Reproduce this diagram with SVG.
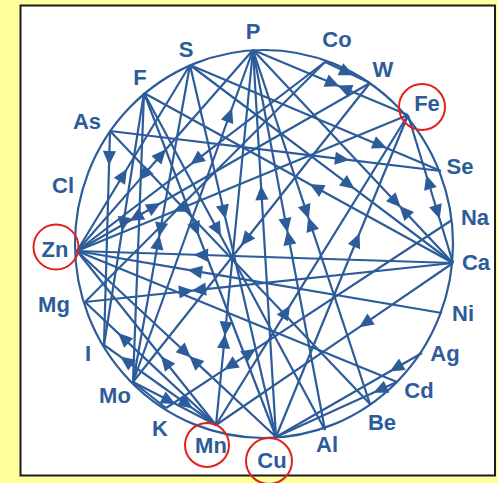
<svg xmlns="http://www.w3.org/2000/svg" width="498" height="483" viewBox="0 0 498 483">
  <style>
    .bg { fill: #FFFF9E; }
    .panel { fill: #FFFFFF; stroke: #1C1C1C; stroke-width: 2; }
    .wheel { fill: none; stroke: #2C5C99; stroke-width: 2.2; }
    .c { fill: none; stroke: #2C5C99; stroke-width: 2.2; stroke-linejoin: round; }
    .a { marker-mid: url(#ah); }
    .lbl { font-family: "Liberation Sans", Arial, Helvetica, sans-serif; font-size: 22px; font-weight: bold; fill: #2C5C99; text-anchor: middle; }
    .ring { fill: none; stroke: #E3201B; stroke-width: 2; }
  </style>
  <defs>
    <marker id="ah" viewBox="-10 -10 20 20" markerWidth="20" markerHeight="20" markerUnits="userSpaceOnUse" refX="0" refY="0" orient="auto">
      <path d="M9.5,0 L-5,-6.6 L-5,6.6 Z" fill="#2C5C99"/>
    </marker>
  </defs>

  <rect class="bg" x="0" y="0" width="498" height="483"/>
  <rect class="panel" x="20.5" y="5.5" width="474.5" height="470"/>
  <ellipse class="wheel" cx="264" cy="244" rx="189" ry="194"/>

  <g id="connectors">
    <!-- P -->
    <polyline class="c a" points="253,50 330.7,82.6 338.5,85.9"/>
    <polyline class="c a" points="408,115 346.3,89.2 338.5,85.9"/>
    <polyline class="c a" points="253,50 394.2,200.4 400,206.6"/>
    <polyline class="c a" points="453,263 405.8,212.8 400,206.6"/>
    <polyline class="c a" points="253,50 305.8,209.9 308.5,218"/>
    <polyline class="c a" points="370,404 311.2,226.1 308.5,218"/>
    <polyline class="c a" points="253,50 285.8,223.2 287.4,231.5"/>
    <polyline class="c a" points="325,430 289,239.8 287.4,231.5"/>
    <polyline class="c a" points="253,50 225.7,326.5 224.9,335"/>
    <polyline class="c a" points="216,425 224.1,343.5 224.9,335"/>
    <polyline class="c a" points="276,437 261.6,195 253,50"/>
    <polyline class="c a" points="133,382 228.8,117 253,50"/>
    <polyline class="c a" points="152.5,164.8 145.3,173.1 77,251"/>
    <polyline class="c a" points="152.5,164.8 159.7,156.5 253,50"/>
    <!-- S -->
    <polyline class="c a" points="190,65 378,144.4 441,171"/>
    <polyline class="c a" points="190,65 347,183.2 453,263"/>
    <polyline class="c a" points="190,65 223.5,210 276,437"/>
    <polyline class="c a" points="190,65 160.75,227.6 159.25,236"/>
    <polyline class="c a" points="133,382 157.75,244.4 159.25,236"/>
    <polyline class="c a" points="77,251 122,177 190,65"/>
    <!-- F -->
    <line class="c" x1="144" y1="93" x2="133" y2="382"/>
    <polyline class="c a" points="144,93 123.5,222 104,345"/>
    <polyline class="c a" points="144,93 195.4,227 276,437"/>
    <polyline class="c a" points="144,93 216.5,228 325,430"/>
    <polyline class="c a" points="453,263 318,188.7 144,93"/>
    <!-- As -->
    <polyline class="c a" points="110,131 340,158.8 441,171"/>
    <polyline class="c a" points="110,131 109.3,156 104,345"/>
    <line class="c" x1="110" y1="131" x2="370" y2="404"/>
    <!-- Zn -->
    <polyline class="c a" points="325,62 198,158.8 77,251"/>
    <polyline class="c a" points="145,212 137.6,216.2 77,251"/>
    <polyline class="c a" points="145,212 152.4,207.8 370,83"/>
    <polyline class="c a" points="408,115 182,207.9 77,251"/>
    <polyline class="c a" points="453,263 203,255 77,251"/>
    <polyline class="c a" points="442,313 197,271.4 77,251"/>
    <line class="c" x1="77" y1="251" x2="397" y2="382"/>
    <polyline class="c a" points="77,251 183.8,350.8 190,356.6"/>
    <polyline class="c a" points="276,437 196.2,362.4 190,356.6"/>
    <polyline class="c a" points="216,425 167,363.7 77,251"/>
    <!-- Mg -->
    <polyline class="c a" points="85,302 184,291.5 192.5,290.6"/>
    <polyline class="c a" points="453,263 201,289.7 192.5,290.6"/>
    <polyline class="c a" points="216,425 125,339.6 85,302"/>
    <line class="c" x1="85" y1="302" x2="325" y2="62"/>
    <!-- I -->
    <polyline class="c a" points="156.5,382.5 128,362.1 104,345"/>
    <polyline class="c a" points="156.5,382.5 185,402.9 216,425"/>
    <!-- Mo -->
    <polyline class="c a" points="133,382 167,399.6 216,425"/>
    <line class="c" x1="133" y1="382" x2="166" y2="408"/>
    <polyline class="c a" points="370,83 247,238.2 133,382"/>
    <!-- K -->
    <polyline class="c a" points="240,359.4 232,364.6 166,408"/>
    <polyline class="c a" points="240,359.4 248,354.1 452,220"/>
    <!-- Cu -->
    <polyline class="c a" points="276,437 355.9,242 408,115"/>
    <polyline class="c a" points="422,353 398,366.8 276,437"/>
    <polyline class="c a" points="397,382 382,388.8 276,437"/>
    <!-- Mn -->
    <polyline class="c a" points="216,425 285,313.6 408,115"/>
    <polyline class="c a" points="453,263 367,321.8 216,425"/>
    <!-- Fe, Co -->
    <polyline class="c a" points="432.9,197 429,184 408,115"/>
    <polyline class="c a" points="432.9,197 436.9,210 453,263"/>
    <polyline class="c a" points="325,62 345,71.3 370,83"/>
  </g>

  <g id="node-P"><text class="lbl" x="253" y="39">P</text></g>
  <g id="node-Co"><text class="lbl" x="337" y="47">Co</text></g>
  <g id="node-W"><text class="lbl" x="383" y="77">W</text></g>
  <g id="node-Fe"><text class="lbl" x="427" y="111">Fe</text><circle class="ring" cx="422" cy="107" r="23"/></g>
  <g id="node-Se"><text class="lbl" x="460" y="174">Se</text></g>
  <g id="node-Na"><text class="lbl" x="475" y="225">Na</text></g>
  <g id="node-Ca"><text class="lbl" x="476" y="270">Ca</text></g>
  <g id="node-Ni"><text class="lbl" x="463" y="321">Ni</text></g>
  <g id="node-Ag"><text class="lbl" x="445" y="361">Ag</text></g>
  <g id="node-Cd"><text class="lbl" x="419" y="398">Cd</text></g>
  <g id="node-Be"><text class="lbl" x="382" y="430">Be</text></g>
  <g id="node-Al"><text class="lbl" x="327" y="452">Al</text></g>
  <g id="node-Cu"><text class="lbl" x="272" y="468">Cu</text><circle class="ring" cx="269" cy="461" r="23"/></g>
  <g id="node-Mn"><text class="lbl" x="211" y="453">Mn</text><circle class="ring" cx="207" cy="445" r="22"/></g>
  <g id="node-K"><text class="lbl" x="160" y="436">K</text></g>
  <g id="node-Mo"><text class="lbl" x="115" y="403">Mo</text></g>
  <g id="node-I"><text class="lbl" x="88" y="361">I</text></g>
  <g id="node-Mg"><text class="lbl" x="54" y="312">Mg</text></g>
  <g id="node-Zn"><text class="lbl" x="55" y="257">Zn</text><circle class="ring" cx="56" cy="247" r="22.5"/></g>
  <g id="node-Cl"><text class="lbl" x="63" y="193">Cl</text></g>
  <g id="node-As"><text class="lbl" x="87" y="129">As</text></g>
  <g id="node-F"><text class="lbl" x="140" y="85">F</text></g>
  <g id="node-S"><text class="lbl" x="186" y="57">S</text></g>
</svg>
